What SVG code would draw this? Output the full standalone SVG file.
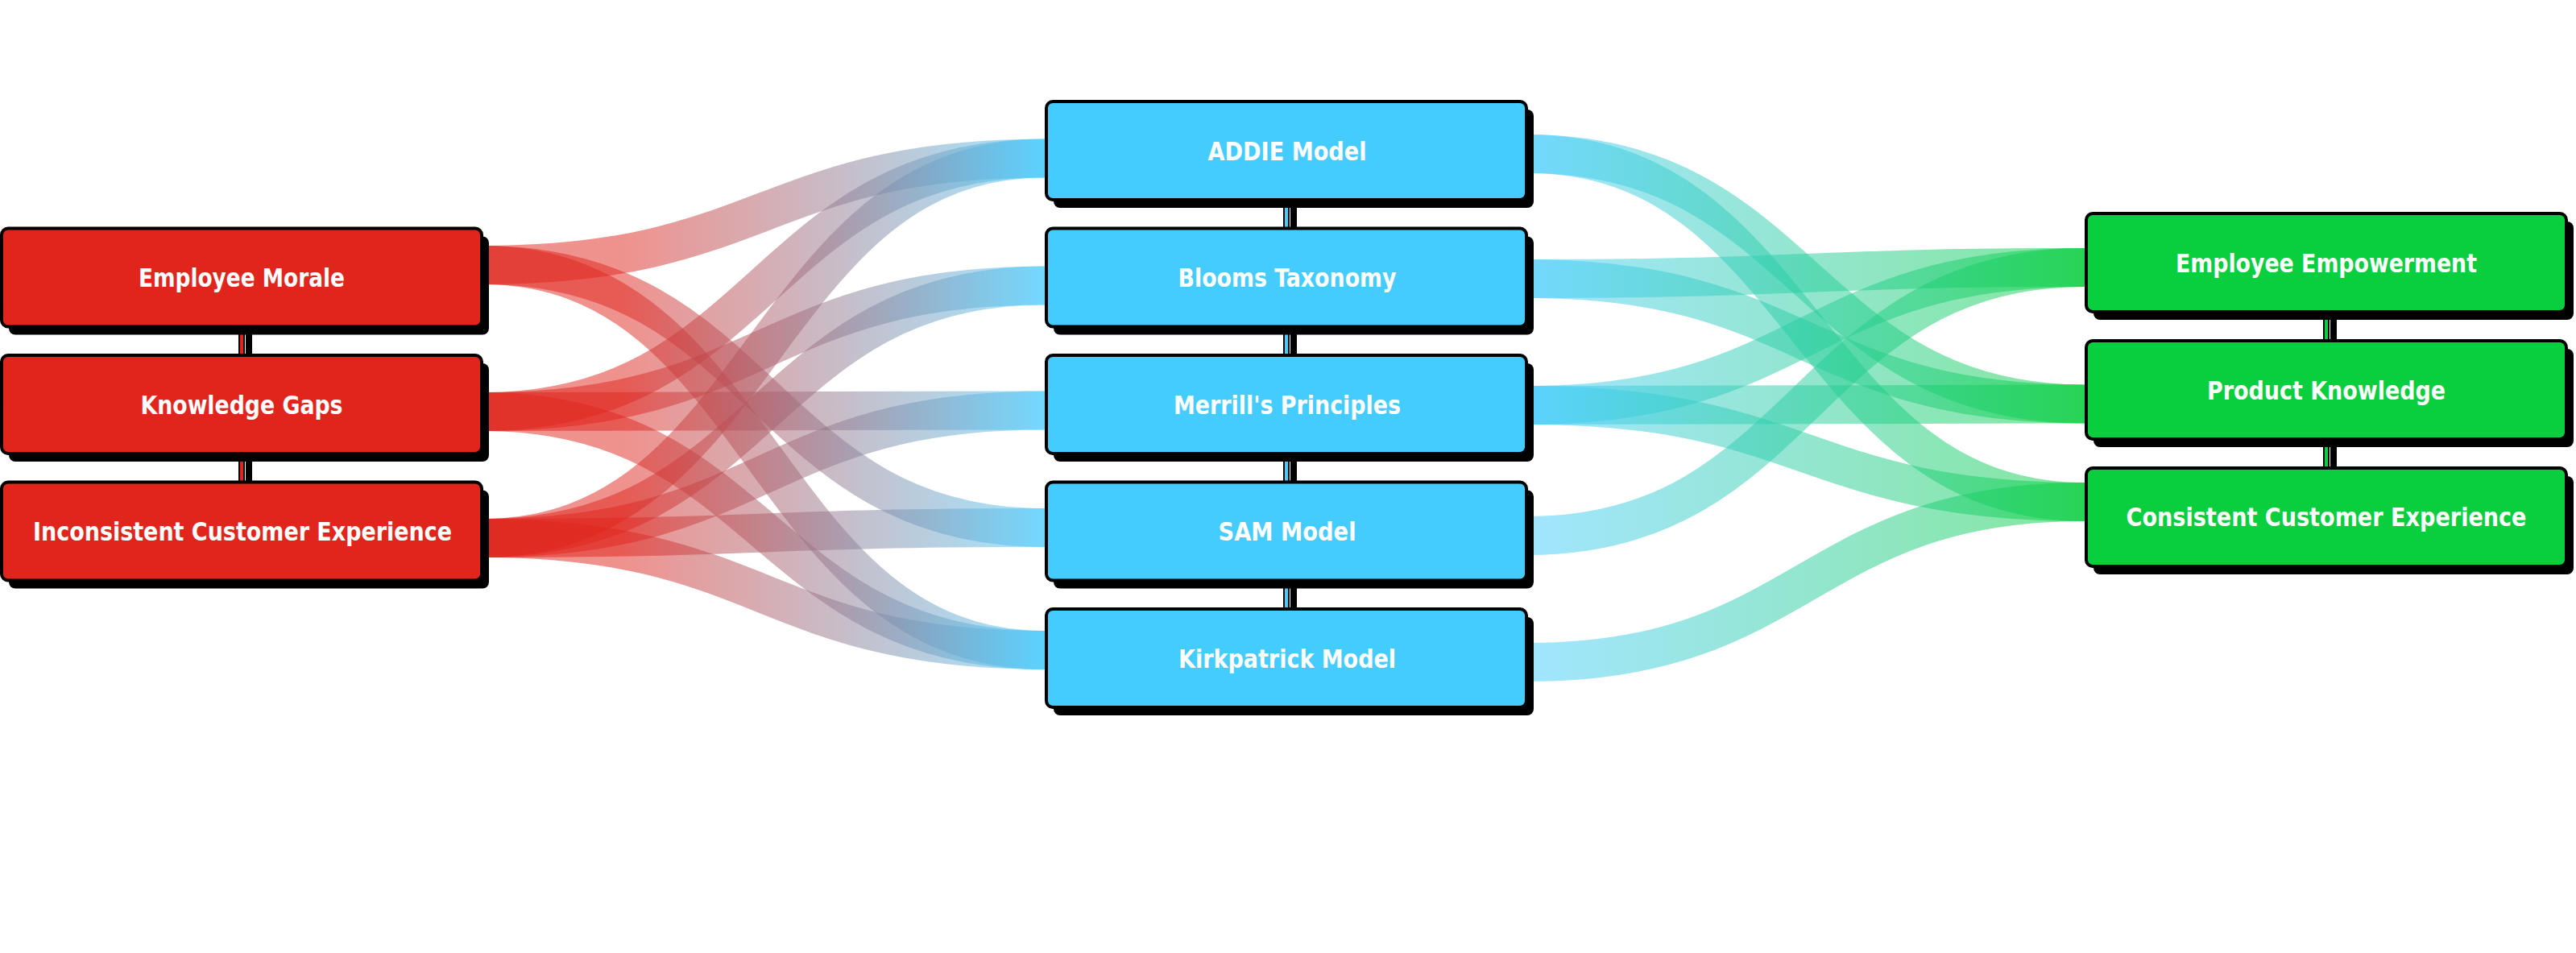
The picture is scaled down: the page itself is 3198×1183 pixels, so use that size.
<svg xmlns="http://www.w3.org/2000/svg" width="3198" height="1183" viewBox="0 0 3198 1183">
<style>
.lk{fill:none;stroke-width:48;stroke-opacity:0.5}
.lc{stroke:url(#gLC)}
.cr{stroke:url(#gCR)}
.sh{fill:#000}
.bx{stroke:#000;stroke-width:4}
.red{fill:#E0251D}
.blue{fill:#45CCFF}
.green{fill:#09CE3D}
.tx{fill:#fff;font-family:"DejaVu Sans Condensed","Roboto Condensed","Liberation Sans Narrow",Roboto,"DejaVu Sans",sans-serif;font-stretch:condensed;font-weight:bold;font-size:32px;text-anchor:middle}
.vs{stroke:#000;stroke-width:8}
</style>
<defs>
<linearGradient id="gLC" gradientUnits="userSpaceOnUse" x1="600" y1="0" x2="1297" y2="0">
<stop offset="0" stop-color="#E0251D"/><stop offset="0.25" stop-color="#E0251D"/><stop offset="1" stop-color="#45CCFF"/>
</linearGradient>
<linearGradient id="gCR" gradientUnits="userSpaceOnUse" x1="1897" y1="0" x2="2588" y2="0">
<stop offset="0" stop-color="#45CCFF"/><stop offset="1" stop-color="#09CE3D"/>
</linearGradient>
</defs>
<rect width="3198" height="1183" fill="#fff"/>
<g id="connectors">
<path class="lk lc" d="M600,329 C948.5,329 948.5,196.5 1297,196.5"/>
<path class="lk lc" d="M600,329 C948.5,329 948.5,655 1297,655"/>
<path class="lk lc" d="M600,329 C948.5,329 948.5,807 1297,807"/>
<path class="lk lc" d="M600,511 C948.5,511 948.5,196.5 1297,196.5"/>
<path class="lk lc" d="M600,511 C948.5,511 948.5,354.5 1297,354.5"/>
<path class="lk lc" d="M600,511 C948.5,511 948.5,509.5 1297,509.5"/>
<path class="lk lc" d="M600,511 C948.5,511 948.5,807 1297,807"/>
<path class="lk lc" d="M600,668 C948.5,668 948.5,196.5 1297,196.5"/>
<path class="lk lc" d="M600,668 C948.5,668 948.5,354.5 1297,354.5"/>
<path class="lk lc" d="M600,668 C948.5,668 948.5,509.5 1297,509.5"/>
<path class="lk lc" d="M600,668 C948.5,668 948.5,655 1297,655"/>
<path class="lk lc" d="M600,668 C948.5,668 948.5,807 1297,807"/>
<path class="lk cr" d="M1897,191 C2242.5,191 2242.5,501.5 2588,501.5"/>
<path class="lk cr" d="M1897,191 C2242.5,191 2242.5,623 2588,623"/>
<path class="lk cr" d="M1897,346 C2242.5,346 2242.5,332 2588,332"/>
<path class="lk cr" d="M1897,346 C2242.5,346 2242.5,501.5 2588,501.5"/>
<path class="lk cr" d="M1897,503 C2242.5,503 2242.5,332 2588,332"/>
<path class="lk cr" d="M1897,503 C2242.5,503 2242.5,501.5 2588,501.5"/>
<path class="lk cr" d="M1897,503 C2242.5,503 2242.5,623 2588,623"/>
<path class="lk cr" d="M1897,665 C2242.5,665 2242.5,332 2588,332"/>
<path class="lk cr" d="M1897,822 C2242.5,822 2242.5,623 2588,623"/>
<g id="stack-links">
<path class="vs" d="M309,405 V449 M309,563 V606 M1606,248 V292 M1606,405 V449 M1606,563 V606 M1606,720 V764 M2897,387 V431 M2897,545 V589"/>
<path class="vs" d="M300,405 V441 M300,563 V598 M1597,248 V284 M1597,405 V441 M1597,563 V598 M1597,720 V756 M2888,387 V423 M2888,545 V581"/>
<path stroke="#E0251D" stroke-width="4" d="M300,405 V441 M300,563 V598"/>
<path stroke="#45CCFF" stroke-width="4" d="M1597,248 V284 M1597,405 V441 M1597,563 V598 M1597,720 V756"/>
<path stroke="#09CE3D" stroke-width="4" d="M2888,387 V423 M2888,545 V581"/>
</g>
</g>
<g id="node-employee-morale">
<rect class="sh" x="11" y="293.5" width="596" height="122" rx="8"/>
<rect class="bx red" x="2" y="283.5" width="596" height="122" rx="8"/>
<text class="tx" x="300" y="356" textLength="256" lengthAdjust="spacingAndGlyphs">Employee Morale</text>
</g>
<g id="node-knowledge-gaps">
<rect class="sh" x="11" y="451" width="596" height="122" rx="8"/>
<rect class="bx red" x="2" y="441" width="596" height="122" rx="8"/>
<text class="tx" x="300" y="513.5" textLength="251" lengthAdjust="spacingAndGlyphs">Knowledge Gaps</text>
</g>
<g id="node-inconsistent-customer-experience">
<rect class="sh" x="11" y="608.5" width="596" height="122" rx="8"/>
<rect class="bx red" x="2" y="598.5" width="596" height="122" rx="8"/>
<text class="tx" x="301" y="671" textLength="520" lengthAdjust="spacingAndGlyphs">Inconsistent Customer Experience</text>
</g>
<g id="node-addie-model">
<rect class="sh" x="1308" y="136" width="596" height="122" rx="8"/>
<rect class="bx blue" x="1299" y="126" width="596" height="122" rx="8"/>
<text class="tx" x="1598" y="198.5" textLength="197" lengthAdjust="spacingAndGlyphs">ADDIE Model</text>
</g>
<g id="node-blooms-taxonomy">
<rect class="sh" x="1308" y="293.5" width="596" height="122" rx="8"/>
<rect class="bx blue" x="1299" y="283.5" width="596" height="122" rx="8"/>
<text class="tx" x="1598" y="356" textLength="271" lengthAdjust="spacingAndGlyphs">Blooms Taxonomy</text>
</g>
<g id="node-merrills-principles">
<rect class="sh" x="1308" y="451" width="596" height="122" rx="8"/>
<rect class="bx blue" x="1299" y="441" width="596" height="122" rx="8"/>
<text class="tx" x="1598" y="513.5" textLength="282" lengthAdjust="spacingAndGlyphs">Merrill's Principles</text>
</g>
<g id="node-sam-model">
<rect class="sh" x="1308" y="608.5" width="596" height="122" rx="8"/>
<rect class="bx blue" x="1299" y="598.5" width="596" height="122" rx="8"/>
<text class="tx" x="1598" y="671" textLength="171" lengthAdjust="spacingAndGlyphs">SAM Model</text>
</g>
<g id="node-kirkpatrick-model">
<rect class="sh" x="1308" y="766" width="596" height="122" rx="8"/>
<rect class="bx blue" x="1299" y="756" width="596" height="122" rx="8"/>
<text class="tx" x="1598" y="828.5" textLength="270" lengthAdjust="spacingAndGlyphs">Kirkpatrick Model</text>
</g>
<g id="node-employee-empowerment">
<rect class="sh" x="2599" y="275" width="596" height="122" rx="8"/>
<rect class="bx green" x="2590" y="265" width="596" height="122" rx="8"/>
<text class="tx" x="2888" y="338" textLength="374" lengthAdjust="spacingAndGlyphs">Employee Empowerment</text>
</g>
<g id="node-product-knowledge">
<rect class="sh" x="2599" y="433" width="596" height="122" rx="8"/>
<rect class="bx green" x="2590" y="423" width="596" height="122" rx="8"/>
<text class="tx" x="2888" y="496" textLength="296" lengthAdjust="spacingAndGlyphs">Product Knowledge</text>
</g>
<g id="node-consistent-customer-experience">
<rect class="sh" x="2599" y="591" width="596" height="122" rx="8"/>
<rect class="bx green" x="2590" y="581" width="596" height="122" rx="8"/>
<text class="tx" x="2888" y="653" textLength="497" lengthAdjust="spacingAndGlyphs">Consistent Customer Experience</text>
</g>
</svg>
